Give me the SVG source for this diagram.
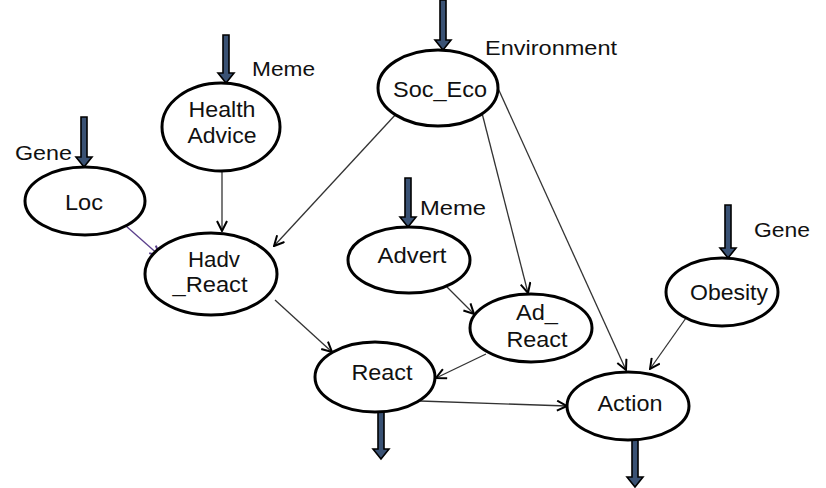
<svg xmlns="http://www.w3.org/2000/svg" width="826" height="488" viewBox="0 0 826 488">
<style>
.node ellipse{fill:#fff;stroke:#000;stroke-width:3}
.node text{font-family:"Liberation Sans",Arial,sans-serif;font-size:22px;fill:#111;text-anchor:middle}
.lbl{font-family:"Liberation Sans",Arial,sans-serif;font-size:20px;fill:#111}
.edge{fill:none;stroke:#333;stroke-width:1.3;marker-end:url(#ah)}
.big{fill:#3a5274;stroke:#000;stroke-width:1.6;stroke-linejoin:miter}
</style>
<defs>
<marker id="ah" viewBox="0 0 12 12" refX="11" refY="6" markerWidth="12" markerHeight="12" markerUnits="userSpaceOnUse" orient="auto">
<path d="M1,1 L11,6 L1,11" fill="none" stroke="#000" stroke-width="2"/>
</marker>
<marker id="ahp" viewBox="0 0 12 12" refX="11" refY="6" markerWidth="12" markerHeight="12" markerUnits="userSpaceOnUse" orient="auto">
<path d="M1,1 L11,6 L1,11" fill="none" stroke="#5b3f8c" stroke-width="2"/>
</marker>
<path id="big" d="M-3,0 L3,0 L3,-10 L8,-10 L0,0 L-8,-10 L-3,-10 Z"/>
</defs>

<g id="inputs">
<path class="big" d="M440,0 L446,0 L446,40 L451,40 L443,50 L435,40 L440,40 Z"/>
<path class="big" d="M223,35 L229,35 L229,73 L234,73 L226,83 L218,73 L223,73 Z"/>
<path class="big" d="M81,117 L87,117 L87,157 L92,157 L84,167 L76,157 L81,157 Z"/>
<path class="big" d="M405,178 L411,178 L411,217 L416,217 L408,227 L400,217 L405,217 Z"/>
<path class="big" d="M725,205 L731,205 L731,248 L736,248 L728,258 L720,248 L725,248 Z"/>
<path class="big" d="M378,412 L384,412 L384,449 L389,449 L381,459 L373,449 L378,449 Z"/>
<path class="big" d="M632,440 L638,440 L638,477 L643,477 L635,487 L627,477 L632,477 Z"/>
<text class="lbl" x="485" y="55" textLength="132" lengthAdjust="spacingAndGlyphs">Environment</text>
<text class="lbl" x="252" y="76" textLength="63" lengthAdjust="spacingAndGlyphs">Meme</text>
<text class="lbl" x="15" y="160" textLength="57" lengthAdjust="spacingAndGlyphs">Gene</text>
<text class="lbl" x="420" y="215" textLength="66" lengthAdjust="spacingAndGlyphs">Meme</text>
<text class="lbl" x="754" y="237" textLength="56" lengthAdjust="spacingAndGlyphs">Gene</text>
</g>

<g id="connectors">
<line class="edge" x1="397" y1="113" x2="274" y2="246"/>
<line class="edge" x1="222" y1="171" x2="222" y2="231"/>
<line x1="126" y1="226" x2="160" y2="256" stroke="#5b3f8c" stroke-width="1.3" marker-end="url(#ahp)"/>
<line class="edge" x1="275" y1="300" x2="332" y2="352"/>
<line class="edge" x1="446" y1="286" x2="474" y2="314"/>
<line class="edge" x1="482" y1="113" x2="528" y2="293"/>
<line class="edge" x1="486" y1="354" x2="436" y2="378"/>
<line class="edge" x1="420" y1="401" x2="567" y2="406"/>
<line class="edge" x1="497" y1="86" x2="626" y2="370"/>
<line class="edge" x1="686" y1="318" x2="650" y2="369"/>
</g>

<g id="Soc_Eco" class="node"><ellipse cx="438" cy="88" rx="60" ry="38"/><text x="440" y="97" font-size="24" textLength="94" lengthAdjust="spacingAndGlyphs">Soc_Eco</text></g>
<g id="HealthAdvice" class="node"><ellipse cx="221" cy="127" rx="59" ry="44"/><text x="222" y="117" textLength="67" lengthAdjust="spacingAndGlyphs">Health</text><text x="222" y="143" textLength="69" lengthAdjust="spacingAndGlyphs">Advice</text></g>
<g id="Loc" class="node"><ellipse cx="85" cy="201" rx="60" ry="34"/><text x="84" y="210" textLength="38" lengthAdjust="spacingAndGlyphs">Loc</text></g>
<g id="Hadv_React" class="node"><ellipse cx="211" cy="274" rx="66" ry="41"/><text x="214" y="267" textLength="52" lengthAdjust="spacingAndGlyphs">Hadv</text><text x="210" y="292" textLength="75" lengthAdjust="spacingAndGlyphs">_React</text></g>
<g id="Advert" class="node"><ellipse cx="409" cy="260" rx="61" ry="33"/><text x="412" y="263" textLength="69" lengthAdjust="spacingAndGlyphs">Advert</text></g>
<g id="Ad_React" class="node"><ellipse cx="531" cy="328" rx="61" ry="34"/><text x="537" y="320" textLength="42" lengthAdjust="spacingAndGlyphs">Ad_</text><text x="537" y="347" textLength="61" lengthAdjust="spacingAndGlyphs">React</text></g>
<g id="Obesity" class="node"><ellipse cx="722" cy="292" rx="56" ry="34"/><text x="729" y="300" textLength="78" lengthAdjust="spacingAndGlyphs">Obesity</text></g>
<g id="React" class="node"><ellipse cx="375" cy="377" rx="60" ry="35"/><text x="382" y="380" textLength="61" lengthAdjust="spacingAndGlyphs">React</text></g>
<g id="Action" class="node"><ellipse cx="628" cy="406" rx="61" ry="34"/><text x="630" y="411" textLength="65" lengthAdjust="spacingAndGlyphs">Action</text></g>
</svg>
